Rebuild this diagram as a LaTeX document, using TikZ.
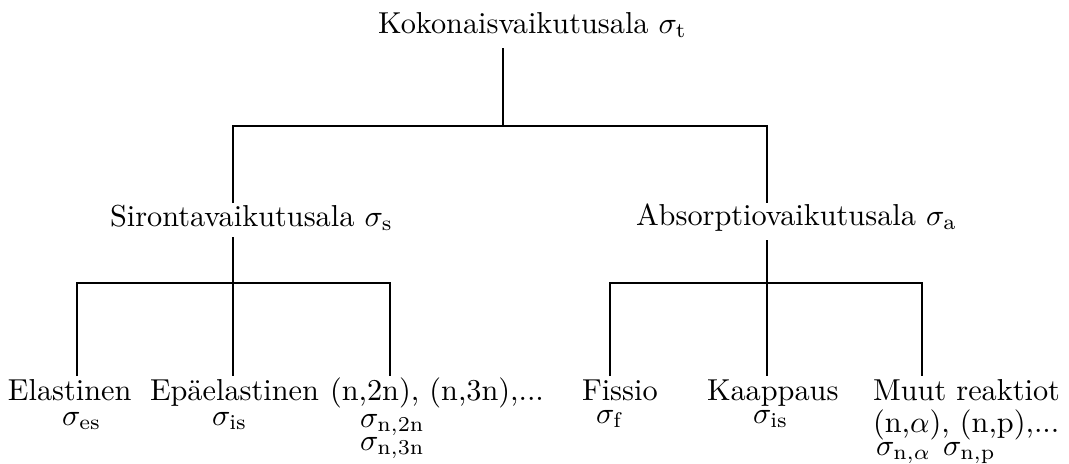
\documentclass[tikz,border=0pt]{standalone}
\usepackage{fontspec}
\begin{document}
\begin{tikzpicture}[x=0.33pt,y=-0.33pt,
  lbl/.style={anchor=base west,inner sep=0pt,outer sep=0pt},
  branch/.style={line width=0.5pt}]
\useasboundingbox (0,0) rectangle (1069,463);

% top level
\node[lbl] (tot) at (378,33) {Kokonaisvaikutusala $\sigma_{\mathrm{t}}$};
% second level
\node[lbl] (sir) at (110,226) {Sirontavaikutusala $\sigma_{\mathrm{s}}$};
\node[lbl] (abs) at (636,225) {Absorptiovaikutusala $\sigma_{\mathrm{a}}$};
% leaves: scattering
\node[lbl] (el)   at (8,400)   {Elastinen};
\node[lbl] (els)  at (62,425)  {$\sigma_{\mathrm{es}}$};
\node[lbl] (inel) at (150,400) {Epäelastinen};
\node[lbl] (inels) at (212,425) {$\sigma_{\mathrm{is}}$};
\node[lbl] (nxn)  at (330,400) {(n,2n), (n,3n),...};
\node[lbl] (n2s)  at (360,427) {$\sigma_{\mathrm{n,2n}}$};
\node[lbl] (n3s)  at (360,450) {$\sigma_{\mathrm{n,3n}}$};
% leaves: absorption
\node[lbl] (fis)  at (582,400) {Fissio};
\node[lbl] (fiss) at (596,423) {$\sigma_{\mathrm{f}}$};
\node[lbl] (cap)  at (707,400) {Kaappaus};
\node[lbl] (caps) at (753,423) {$\sigma_{\mathrm{is}}$};
\node[lbl] (oth)  at (873,400) {Muut reaktiot};
\node[lbl] (othr) at (873,432) {(n,$\alpha$), (n,p),...};
\node[lbl] (nas)  at (876,455) {$\sigma_{\mathrm{n},\alpha}$};
\node[lbl] (nps)  at (943,455) {$\sigma_{\mathrm{n,p}}$};

% connector end points and junctions
\coordinate (totB) at (503,48);
\coordinate (j0)   at (503,126);
\coordinate (sirT) at (233,203);
\coordinate (sirB) at (233,237);
\coordinate (absT) at (767,203);
\coordinate (absB) at (767,240);
\coordinate (j1)   at (233,283);
\coordinate (j2)   at (767,283);
\coordinate (elT)   at (77,376);
\coordinate (inelT) at (233,376);
\coordinate (nxnT)  at (390,376);
\coordinate (fisT)  at (610,376);
\coordinate (capT)  at (767,376);
\coordinate (othT)  at (922,376);

\draw[branch] (totB) -- (j0);
\draw[branch] (sirT) |- (j0) -| (absT);
\draw[branch] (sirB) -- (j1);
\draw[branch] (elT) |- (j1) -| (nxnT);
\draw[branch] (j1) -- (inelT);
\draw[branch] (absB) -- (j2);
\draw[branch] (fisT) |- (j2) -| (othT);
\draw[branch] (j2) -- (capT);
\end{tikzpicture}
\end{document}
